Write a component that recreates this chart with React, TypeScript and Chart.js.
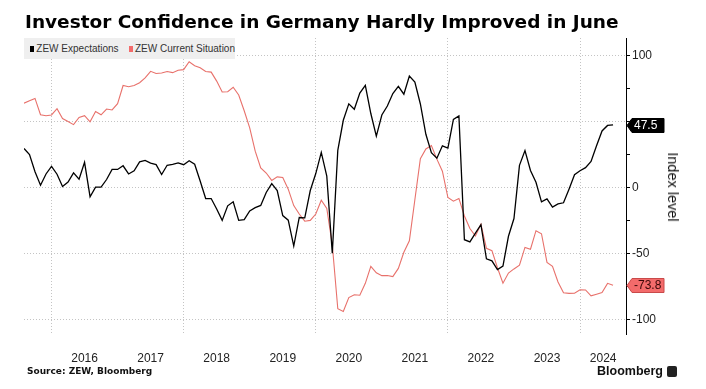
import React, { useEffect, useRef } from "react";
import { Chart, registerables } from "chart.js";

Chart.register(...registerables);

// ---- data (monthly, July 2015 – June 2024) ----
const START_YEAR = 2015;
const START_MONTH = 7;

const expectations = [
  29.7, 25.0, 12.1, 1.9, 10.4, 16.1,
  10.2, 1.0, 4.3, 11.2, 6.4, 19.2, -6.8, 0.5, 0.5, 6.2, 13.8, 13.8,
  16.6, 10.4, 12.8, 19.5, 20.6, 18.6, 17.5, 10.0, 17.0, 17.6, 18.7, 17.4,
  20.4, 17.8, 5.1, -8.2, -8.2, -16.1, -24.7, -13.7, -10.6, -24.7, -24.1, -17.5,
  -15.1, -13.4, -3.6, 3.1, -2.1, -21.1, -24.5, -44.1, -22.5, -22.8, -2.1, 10.7,
  26.7, 8.7, -49.5, 28.2, 51.0, 63.4, 59.3, 71.5, 77.4, 56.1, 39.0, 55.0,
  61.8, 71.2, 76.6, 70.7, 84.4, 79.8, 63.3, 40.4, 26.5, 22.3, 31.7, 29.9,
  51.7, 54.3, -39.3, -41.0, -34.3, -28.0, -53.8, -55.3, -61.9, -59.2, -36.7, -23.3,
  16.9, 28.1, 13.0, 4.1, -10.7, -8.5, -14.7, -12.3, -11.4, -1.1, 9.8, 12.8,
  15.2, 19.9, 31.7, 42.9, 47.1, 47.5,
];

const currentSituation = [
  63.9, 65.7, 67.5, 55.2, 54.4, 55.0,
  59.7, 52.3, 50.0, 47.7, 53.1, 54.5, 49.8, 57.6, 55.1, 59.5, 58.8, 63.5,
  77.3, 76.4, 77.3, 79.4, 83.0, 88.0, 86.4, 86.7, 87.9, 87.0, 88.8, 89.3,
  95.2, 92.3, 90.7, 87.9, 87.4, 80.6, 72.4, 72.6, 76.0, 70.1, 58.2, 45.3,
  27.6, 15.0, 11.1, 5.5, 8.2, 7.8, -1.1, -13.5, -19.9, -25.3, -24.7, -19.9,
  -9.5, -15.7, -43.1, -91.5, -93.5, -83.1, -80.9, -81.3, -72.3, -59.5, -64.3, -66.5,
  -66.4, -67.2, -61.0, -48.8, -40.1, -9.1, 21.9, 29.3, 31.9, 21.6, 12.5, -7.4,
  -10.2, -8.1, -21.4, -30.8, -36.5, -27.6, -45.8, -47.6, -60.5, -72.2, -64.5, -61.4,
  -58.6, -45.1, -46.5, -32.5, -34.8, -56.5, -59.5, -71.3, -79.4, -79.9, -79.8, -77.1,
  -77.3, -81.7, -80.5, -79.2, -72.3, -73.8,
];

const seriesNames = ["ZEW Expectations", "ZEW Current Situation"];
const yearLabels = ["2016", "2017", "2018", "2019", "2020", "2021", "2022", "2023", "2024"];
const yearLabelPositions = [2016.5, 2017.5, 2018.5, 2019.5, 2020.5, 2021.5, 2022.5, 2023.5, 2024.35];
const gridYears = [2016, 2018, 2020, 2022, 2024];
const yTickValues = [-100, -75, -50, -25, 0, 25, 50, 75, 100];

const TITLE = "Investor Confidence in Germany Hardly Improved in June";
const SOURCE = "Source: ZEW, Bloomberg";
const AXIS_TITLE = "Index level";

const BLACK = "#000000";
const RED = "#e8716b";
const RED_BOX = "#f36b6b";
const GRID = "#c4c4c4";
const SANS = '"Liberation Sans", Arial, sans-serif';
const BOLD = '"DejaVu Sans", Verdana, sans-serif';

const toX = (i: number) => START_YEAR + (START_MONTH + i) / 12;
const lastValues = [expectations[expectations.length - 1], currentSituation[currentSituation.length - 1]];

const lastValueBoxes = {
  id: "lastValueBoxes",
  afterDatasetsDraw(chart: any) {
    const { ctx, chartArea, scales } = chart;
    const specs = [
      { v: lastValues[0], fill: BLACK, stroke: BLACK, text: "#ffffff" },
      { v: lastValues[1], fill: RED_BOX, stroke: "#c94a4a", text: "#3a0808" },
    ];
    ctx.save();
    specs.forEach((s) => {
      const y = Math.round(scales.y.getPixelForValue(s.v)) + 0.5;
      const x = chartArea.right + 1;
      const h = 7;
      const w = 37;
      ctx.beginPath();
      ctx.moveTo(x, y);
      ctx.lineTo(x + 5, y - h);
      ctx.lineTo(x + w, y - h);
      ctx.lineTo(x + w, y + h);
      ctx.lineTo(x + 5, y + h);
      ctx.closePath();
      ctx.fillStyle = s.fill;
      ctx.fill();
      ctx.lineWidth = 1;
      ctx.strokeStyle = s.stroke;
      ctx.stroke();
      ctx.fillStyle = s.text;
      ctx.font = `12px ${SANS}`;
      ctx.textAlign = "left";
      ctx.textBaseline = "middle";
      ctx.fillText(s.v.toFixed(1), x + 7, y + 0.5);
    });
    ctx.restore();
  },
};

export default function App() {
  const ref = useRef<HTMLCanvasElement | null>(null);

  useEffect(() => {
    if (!ref.current) return;
    const chart = new Chart(ref.current, {
      type: "line",
      data: {
        datasets: [
          {
            label: seriesNames[0],
            data: expectations.map((v, i) => ({ x: toX(i), y: v })),
            borderColor: BLACK,
            borderWidth: 1.3,
            pointRadius: 0,
            tension: 0,
          },
          {
            label: seriesNames[1],
            data: currentSituation.map((v, i) => ({ x: toX(i), y: v })),
            borderColor: RED,
            borderWidth: 1.1,
            pointRadius: 0,
            tension: 0,
          },
        ],
      },
      options: {
        animation: false,
        responsive: false,
        devicePixelRatio: 1,
        events: [],
        layout: { padding: { left: 24, top: 38, right: 0, bottom: 0 } },
        plugins: { legend: { display: false }, tooltip: { enabled: false }, title: { display: false } },
        scales: {
          x: {
            type: "linear",
            min: toX(0),
            max: 2024.696,
            afterBuildTicks: (scale: any) => {
              const vals = [...gridYears, ...yearLabelPositions].sort((a, b) => a - b);
              scale.ticks = vals.map((v) => ({ value: v }));
            },
            afterFit: (scale: any) => {
              scale.height = 55;
            },
            grid: {
              drawTicks: false,
              color: (c: any) => (c.tick && gridYears.includes(c.tick.value) ? GRID : "rgba(0,0,0,0)"),
              lineWidth: 1,
            },
            border: { display: false, dash: [1, 2] },
            ticks: {
              autoSkip: false,
              maxRotation: 0,
              padding: 17,
              color: "#222",
              font: { family: SANS, size: 12 },
              callback: (v: any) => {
                const idx = yearLabelPositions.indexOf(Number(v));
                return idx >= 0 ? yearLabels[idx] : "";
              },
            },
          },
          y: {
            position: "right",
            min: -110.6,
            max: 113.2,
            afterBuildTicks: (scale: any) => {
              scale.ticks = yTickValues.map((v) => ({ value: v }));
            },
            afterFit: (scale: any) => {
              scale.width = 80;
            },
            grid: {
              drawTicks: true,
              tickLength: 4,
              tickColor: "#000",
              tickWidth: 1,
              color: (c: any) => (c.tick && c.tick.value % 50 === 0 ? GRID : "rgba(0,0,0,0)"),
              lineWidth: 1,
            },
            border: { display: true, color: "#000", width: 1, dash: [1, 2] },
            ticks: {
              padding: 2,
              color: "#222",
              font: { family: SANS, size: 12 },
              callback: (v: any) => {
                const n = Number(v);
                if (n % 50 !== 0) return "";
                if (lastValues.some((lv) => Math.abs(lv - n) < 9)) return "";
                return String(n);
              },
            },
          },
        },
      },
      plugins: [lastValueBoxes],
    });
    return () => chart.destroy();
  }, []);

  return (
    <div style={{ position: "absolute", left: 0, top: 0, width: 706, height: 389, background: "#fff", overflow: "hidden" }}>
      <canvas ref={ref} width={706} height={389} style={{ position: "absolute", left: 0, top: 0, width: 706, height: 389 }} />
      <div
        style={{
          position: "absolute",
          left: 25,
          top: 10,
          font: `bold 18.5px ${BOLD}`,
          lineHeight: "23px",
          color: "#000",
          whiteSpace: "nowrap",
        }}
      >
        {TITLE}
      </div>
      <div
        style={{
          position: "absolute",
          left: 24,
          top: 38,
          width: 211,
          height: 21,
          background: "#efefef",
          display: "flex",
          alignItems: "center",
          font: `10px ${SANS}`,
          color: "#333",
          whiteSpace: "nowrap",
        }}
      >
        <span style={{ display: "inline-block", width: 6, height: 6, background: BLACK, marginLeft: 6, marginRight: 2 }} />
        <span>{seriesNames[0]}</span>
        <span style={{ display: "inline-block", width: 6, height: 6, background: RED_BOX, marginLeft: 10, marginRight: 2 }} />
        <span>{seriesNames[1]}</span>
      </div>
      <div
        style={{
          position: "absolute",
          left: 673,
          top: 187,
          transform: "translate(-50%, -50%) rotate(90deg)",
          font: `14.5px ${SANS}`,
          color: "#111",
          whiteSpace: "nowrap",
        }}
      >
        {AXIS_TITLE}
      </div>
      <div
        style={{
          position: "absolute",
          left: 27,
          top: 365,
          font: `bold 9px ${BOLD}`,
          lineHeight: "13px",
          color: "#111",
          whiteSpace: "nowrap",
        }}
      >
        {SOURCE}
      </div>
      <div
        style={{
          position: "absolute",
          left: 597,
          top: 364,
          font: `bold 12.5px ${SANS}`,
          lineHeight: "15px",
          color: "#111",
          whiteSpace: "nowrap",
        }}
      >
        Bloomberg
      </div>
      <div
        style={{
          position: "absolute",
          left: 667,
          top: 366,
          width: 10,
          height: 11,
          background: "#222",
          borderRadius: 2,
        }}
      />
    </div>
  );
}
